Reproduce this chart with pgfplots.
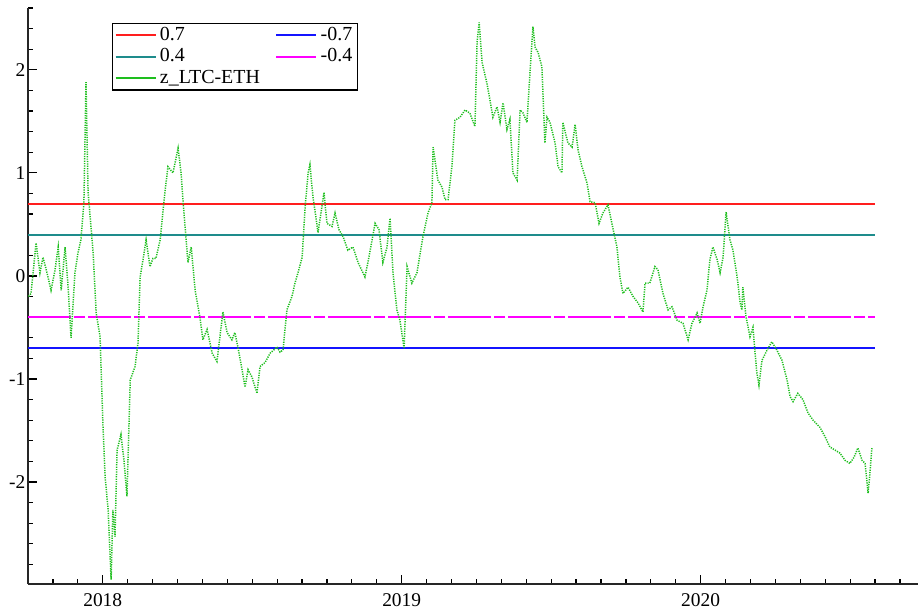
\documentclass[border=0pt]{standalone}
\usepackage{pgfplots}
\pgfplotsset{compat=1.18}
\usepackage{fontspec}
\setmainfont{Liberation Serif}

\definecolor{lnred}{RGB}{255,30,30}
\definecolor{lnteal}{RGB}{30,140,140}
\definecolor{lnblue}{RGB}{20,20,255}
\definecolor{lnmag}{RGB}{255,0,255}
\definecolor{lngreen}{RGB}{30,190,30}

\begin{document}
\begin{tikzpicture}
\begin{axis}[
  name=main,
  scale only axis,
  width=890bp, height=576bp,
  xmin=2017.75, xmax=2020.727,
  ymin=-2.99, ymax=2.6,
  axis lines=left,
  axis line style={-, line width=1.3bp, black!85},
  font=\fontsize{19.5}{22}\selectfont,
  xtick={2018,2019,2020},
  xticklabels={2018,2019,2020},
  minor xtick={2017.8333,2017.9167,2018.0833,2018.1667,2018.25,2018.3333,2018.4167,2018.5,2018.5833,2018.6667,2018.75,2018.8333,2018.9167,2019.0833,2019.1667,2019.25,2019.3333,2019.4167,2019.5,2019.5833,2019.6667,2019.75,2019.8333,2019.9167,2020.0833,2020.1667,2020.25,2020.3333,2020.4167,2020.5,2020.5833,2020.6667},
  ytick={-2,-1,0,1,2},
  yticklabels={-2,-1,0,1,2},
  minor ytick={-2.8,-2.6,-2.4,-2.2,-1.8,-1.6,-1.4,-1.2,-0.8,-0.6,-0.4,-0.2,0.2,0.4,0.6,0.8,1.2,1.4,1.6,1.8,2.2,2.4,2.6},
  tick align=inside,
  major tick length=9bp, minor tick length=5bp,
  every tick/.style={line width=1.2bp, black},
  yticklabel style={inner sep=1.5bp, xshift=-1bp},
  xticklabel style={inner sep=1bp, yshift=-8bp},
  legend columns=2,
  legend cell align=left,
  legend image code/.code={\draw[#1] (0bp,0bp) -- (40bp,0bp);},
  legend style={
    at={(0.0944,0.974)}, anchor=north west,
    draw=black, line width=1.3bp,
    inner xsep=2bp, inner ysep=1.5bp,
    font=\fontsize{20}{20}\selectfont,
    nodes={inner ysep=1bp, inner xsep=3.5bp, text height=14bp, text depth=4.5bp},
    row sep=1bp,
    /tikz/every even column/.append style={column sep=12bp},
  },
]

% threshold levels
\addplot[lnred, line width=1.8bp] coordinates {(2017.75,0.7) (2020.583,0.7)};
\addlegendentry{0.7}
\addplot[lnblue, line width=1.8bp] coordinates {(2017.75,-0.7) (2020.583,-0.7)};
\addlegendentry{-0.7}
\addplot[lnteal, line width=1.8bp] coordinates {(2017.75,0.4) (2020.583,0.4)};
\addlegendentry{0.4}
\addplot[lnmag, line width=1.8bp, dash pattern=on 43bp off 3bp on 11bp off 3bp] coordinates {(2017.75,-0.4) (2020.583,-0.4)};
\addlegendentry{-0.4}

% z-score of the LTC-ETH spread
\addplot[lngreen, line width=1.5bp, dash pattern=on 1.2bp off 1.2bp,
  legend image code/.code={\draw[lngreen, solid, line width=1.8bp] (0bp,0bp) -- (40bp,0bp);}] table {
x y
2017.752 -0.20
2017.760 -0.17
2017.777 0.32
2017.790 0.03
2017.800 0.18
2017.812 0.05
2017.827 -0.14
2017.840 0.05
2017.851 0.28
2017.861 -0.14
2017.874 0.28
2017.884 -0.10
2017.894 -0.60
2017.907 0.03
2017.917 0.22
2017.927 0.35
2017.937 0.71
2017.944 1.88
2017.951 0.81
2017.958 0.57
2017.968 0.22
2017.978 -0.36
2017.991 -0.59
2018.001 -1.47
2018.008 -1.95
2018.018 -2.27
2018.028 -2.95
2018.034 -2.27
2018.041 -2.53
2018.048 -1.69
2018.061 -1.54
2018.071 -1.79
2018.081 -2.14
2018.092 -1.01
2018.108 -0.88
2018.118 -0.65
2018.125 -0.01
2018.135 0.16
2018.145 0.35
2018.158 0.09
2018.168 0.17
2018.178 0.17
2018.192 0.35
2018.208 0.81
2018.218 1.06
2018.235 1.00
2018.252 1.24
2018.262 1.00
2018.269 0.71
2018.285 0.13
2018.296 0.28
2018.309 -0.14
2018.325 -0.40
2018.335 -0.62
2018.349 -0.52
2018.366 -0.75
2018.382 -0.83
2018.392 -0.59
2018.402 -0.35
2018.416 -0.55
2018.432 -0.62
2018.442 -0.55
2018.452 -0.69
2018.466 -0.91
2018.476 -1.08
2018.486 -0.91
2018.499 -0.98
2018.516 -1.14
2018.526 -0.88
2018.543 -0.84
2018.560 -0.75
2018.583 -0.69
2018.593 -0.74
2018.603 -0.72
2018.616 -0.33
2018.633 -0.20
2018.643 -0.07
2018.653 0.03
2018.667 0.18
2018.677 0.67
2018.687 1.00
2018.693 1.08
2018.703 0.77
2018.713 0.57
2018.720 0.42
2018.733 0.67
2018.740 0.81
2018.750 0.51
2018.767 0.48
2018.777 0.61
2018.790 0.45
2018.804 0.38
2018.820 0.25
2018.837 0.28
2018.854 0.13
2018.877 -0.01
2018.887 0.13
2018.901 0.35
2018.911 0.51
2018.924 0.45
2018.937 0.13
2018.951 0.28
2018.961 0.56
2018.971 0.03
2018.984 -0.33
2018.994 -0.43
2019.008 -0.70
2019.018 0.09
2019.034 -0.07
2019.051 0.03
2019.071 0.38
2019.088 0.61
2019.101 0.71
2019.105 1.25
2019.121 0.93
2019.135 0.86
2019.145 0.74
2019.155 0.74
2019.168 1.06
2019.178 1.51
2019.195 1.54
2019.212 1.61
2019.228 1.58
2019.245 1.45
2019.252 2.26
2019.259 2.46
2019.269 2.07
2019.285 1.87
2019.295 1.71
2019.305 1.54
2019.319 1.64
2019.329 1.49
2019.339 1.68
2019.352 1.42
2019.362 1.52
2019.372 1.00
2019.386 0.93
2019.396 1.61
2019.406 1.58
2019.419 1.49
2019.429 1.97
2019.439 2.42
2019.446 2.22
2019.456 2.17
2019.469 2.03
2019.479 1.29
2019.486 1.54
2019.496 1.49
2019.513 1.29
2019.523 1.06
2019.536 1.00
2019.539 1.49
2019.556 1.29
2019.570 1.25
2019.580 1.47
2019.590 1.22
2019.603 1.06
2019.620 0.90
2019.630 0.72
2019.647 0.71
2019.660 0.51
2019.673 0.61
2019.690 0.69
2019.703 0.51
2019.720 0.28
2019.730 -0.01
2019.740 -0.17
2019.757 -0.11
2019.774 -0.20
2019.790 -0.26
2019.807 -0.35
2019.814 -0.07
2019.830 -0.07
2019.847 0.09
2019.857 0.06
2019.874 -0.17
2019.891 -0.33
2019.904 -0.30
2019.921 -0.43
2019.941 -0.46
2019.958 -0.62
2019.971 -0.46
2019.988 -0.36
2019.998 -0.46
2020.008 -0.30
2020.021 -0.14
2020.031 0.16
2020.041 0.28
2020.055 0.16
2020.065 0.03
2020.075 0.18
2020.085 0.62
2020.098 0.35
2020.108 0.25
2020.122 -0.01
2020.132 -0.26
2020.138 -0.33
2020.141 -0.11
2020.152 -0.40
2020.165 -0.59
2020.175 -0.50
2020.182 -0.75
2020.188 -0.94
2020.195 -1.06
2020.205 -0.82
2020.222 -0.72
2020.238 -0.64
2020.255 -0.72
2020.272 -0.82
2020.289 -1.01
2020.299 -1.17
2020.309 -1.22
2020.325 -1.14
2020.342 -1.20
2020.359 -1.33
2020.376 -1.40
2020.399 -1.47
2020.416 -1.56
2020.432 -1.66
2020.449 -1.69
2020.466 -1.72
2020.483 -1.79
2020.499 -1.82
2020.513 -1.76
2020.526 -1.67
2020.540 -1.79
2020.550 -1.82
2020.560 -2.11
2020.566 -1.92
2020.573 -1.66
};
\addlegendentry{z\_LTC-ETH}
\end{axis}
\pgfresetboundingbox
\path[use as bounding box] ([shift={(-28bp,-28bp)}]main.south west) rectangle ([shift={(0bp,8bp)}]main.north east);
\end{tikzpicture}
\end{document}
